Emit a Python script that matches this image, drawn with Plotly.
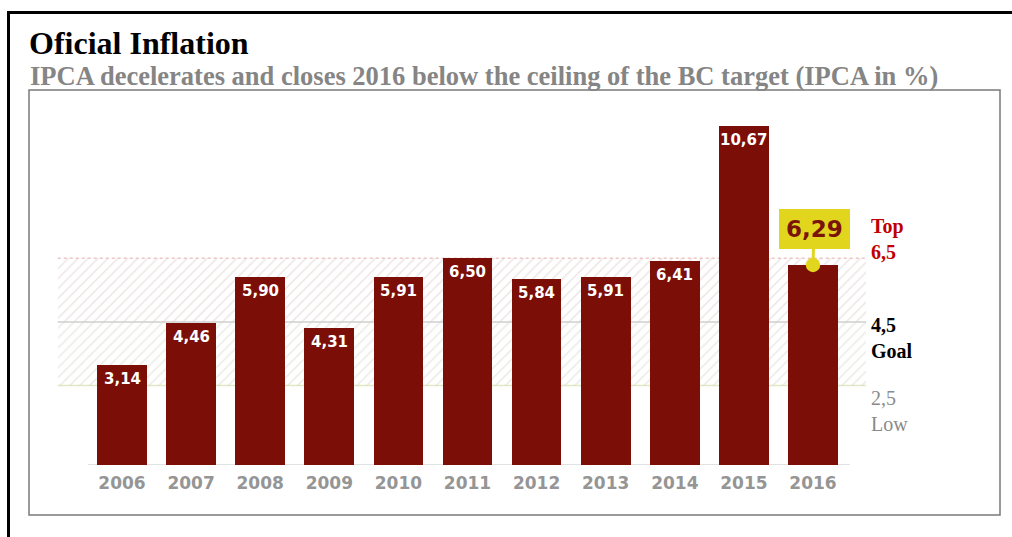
import plotly.graph_objects as go

years = ["2006", "2007", "2008", "2009", "2010", "2011", "2012", "2013", "2014", "2015", "2016"]
ipca = [3.14, 4.46, 5.90, 4.31, 5.91, 6.50, 5.84, 5.91, 6.41, 10.67, 6.29]
target_low = 2.5
target_goal = 4.5
target_top = 6.5

W, H = 1012, 537
BAR = "#7C0E08"
YEL = "#E2D51E"

def px_x(p):
    return p / W

def px_y(p):
    return 1 - p / H

x_idx = list(range(len(years)))
# pixel mapping used for axis ranges
x0_px, step_px = 122.0, 69.1
y0_px, unit_px = 465.0, 31.8

fig = go.Figure()

# hatched target band (behind bars)
band_center = (-0.93 + 10.77) / 2
band_width = 10.77 + 0.93
fig.add_trace(go.Bar(
    x=[band_center], y=[target_goal - target_low], base=[target_low], width=[band_width],
    marker=dict(color="rgba(0,0,0,0)", line=dict(width=0),
                pattern=dict(shape="/", fgcolor="#d6d6cc", bgcolor="rgba(255,255,255,0)",
                             size=7, solidity=0.22)),
    hoverinfo="skip", showlegend=False))
fig.add_trace(go.Bar(
    x=[band_center], y=[target_top - target_goal], base=[target_goal], width=[band_width],
    marker=dict(color="rgba(0,0,0,0)", line=dict(width=0),
                pattern=dict(shape="/", fgcolor="#dbcccc", bgcolor="rgba(255,255,255,0)",
                             size=7, solidity=0.22)),
    hoverinfo="skip", showlegend=False))

# main bars
fig.add_trace(go.Bar(
    x=x_idx, y=ipca, width=0.72,
    marker=dict(color=BAR, line=dict(width=0)),
    showlegend=False, hoverinfo="x+y"))

annotations = []
for i, v in enumerate(ipca[:-1]):
    annotations.append(dict(
        x=i, y=v, xref="x", yref="y", text=f"{v:.2f}".replace(".", ","),
        showarrow=False, yanchor="top", yshift=-3,
        font=dict(family="DejaVu Sans", size=15, color="white", weight="bold")))

# highlighted last value
annotations.append(dict(
    x=x_idx[-1], y=ipca[-1], xref="x", yref="y",
    text=f"{ipca[-1]:.2f}".replace(".", ","),
    showarrow=True, ax=1, ay=-36, arrowhead=6, arrowsize=1.2, arrowwidth=3,
    arrowcolor=YEL, standoff=0,
    bgcolor=YEL, bordercolor=YEL, borderwidth=1, borderpad=6,
    font=dict(family="DejaVu Sans", size=23, color="#7A1408", weight="bold")))

# titles
annotations.append(dict(
    x=px_x(27), y=px_y(43), xref="paper", yref="paper", xanchor="left", yanchor="middle",
    text="<b>Oficial Inflation</b>", showarrow=False,
    font=dict(family="Liberation Serif", size=32, color="black")))
annotations.append(dict(
    x=px_x(28), y=px_y(76), xref="paper", yref="paper", xanchor="left", yanchor="middle",
    text="<b>IPCA decelerates and closes 2016 below the ceiling of the BC target (IPCA in %)</b>",
    showarrow=False, font=dict(family="Liberation Serif", size=26.5, color="#858585")))

# right-side target labels
def side_label(text, cy, color, bold):
    t = "<br>".join(f"<b>{s}</b>" if bold else s for s in text)
    annotations.append(dict(
        x=px_x(869), y=px_y(cy), xref="paper", yref="paper", xanchor="left", yanchor="middle",
        text=t, showarrow=False, align="left",
        font=dict(family="Liberation Serif", size=20, color=color)))

side_label(["Top", f"{target_top}".replace(".", ",")], 239, "#C00000", True)
side_label([f"{target_goal}".replace(".", ","), "Goal"], 338, "black", True)
side_label([f"{target_low}".replace(".", ","), "Low"], 411, "#8a8a8a", False)

shapes = [
    # target lines
    dict(type="line", xref="x", yref="y", x0=-0.93, x1=10.77, y0=target_top, y1=target_top,
         line=dict(color="#efc6c6", width=1.5, dash="dot"), layer="below"),
    dict(type="line", xref="x", yref="y", x0=-0.93, x1=10.77, y0=target_goal, y1=target_goal,
         line=dict(color="#cfcfcf", width=1.5), layer="below"),
    dict(type="line", xref="x", yref="y", x0=-0.93, x1=10.77, y0=target_low, y1=target_low,
         line=dict(color="#e2e8c4", width=1.5), layer="below"),
    # baseline
    dict(type="line", xref="x", yref="y", x0=-0.49, x1=10.53, y0=0, y1=0,
         line=dict(color="#e2e2e2", width=2), layer="below"),
    # inner frame
    dict(type="rect", xref="paper", yref="paper", x0=px_x(29), x1=px_x(1000),
         y0=px_y(515), y1=px_y(90), line=dict(color="#7a7a7a", width=1.5), layer="above"),
    # outer frame (top and left)
    dict(type="line", xref="paper", yref="paper", x0=px_x(7), x1=px_x(1012),
         y0=px_y(12.5), y1=px_y(12.5), line=dict(color="black", width=3)),
    dict(type="line", xref="paper", yref="paper", x0=px_x(8.5), x1=px_x(8.5),
         y0=px_y(11), y1=px_y(537), line=dict(color="black", width=3)),
]

fig.update_layout(
    width=W, height=H,
    margin=dict(l=0, r=0, t=0, b=0),
    paper_bgcolor="white", plot_bgcolor="white",
    barmode="overlay", bargap=0,
    showlegend=False,
    annotations=annotations, shapes=shapes,
    xaxis=dict(domain=[0, 1], range=[-x0_px / step_px, (W - x0_px) / step_px],
               tickvals=x_idx, ticktext=years, showgrid=False, zeroline=False,
               showline=False, ticks="outside", ticklen=3, tickcolor="rgba(0,0,0,0)",
               tickfont=dict(family="DejaVu Sans", size=17, color="#959595", weight="bold"),
               automargin=False, fixedrange=True),
    yaxis=dict(domain=[(H - y0_px) / H, 1], range=[0, y0_px / unit_px],
               showgrid=False, zeroline=False, showline=False, showticklabels=False,
               ticks="", automargin=False, fixedrange=True),
)

fig.write_html("out.html")
